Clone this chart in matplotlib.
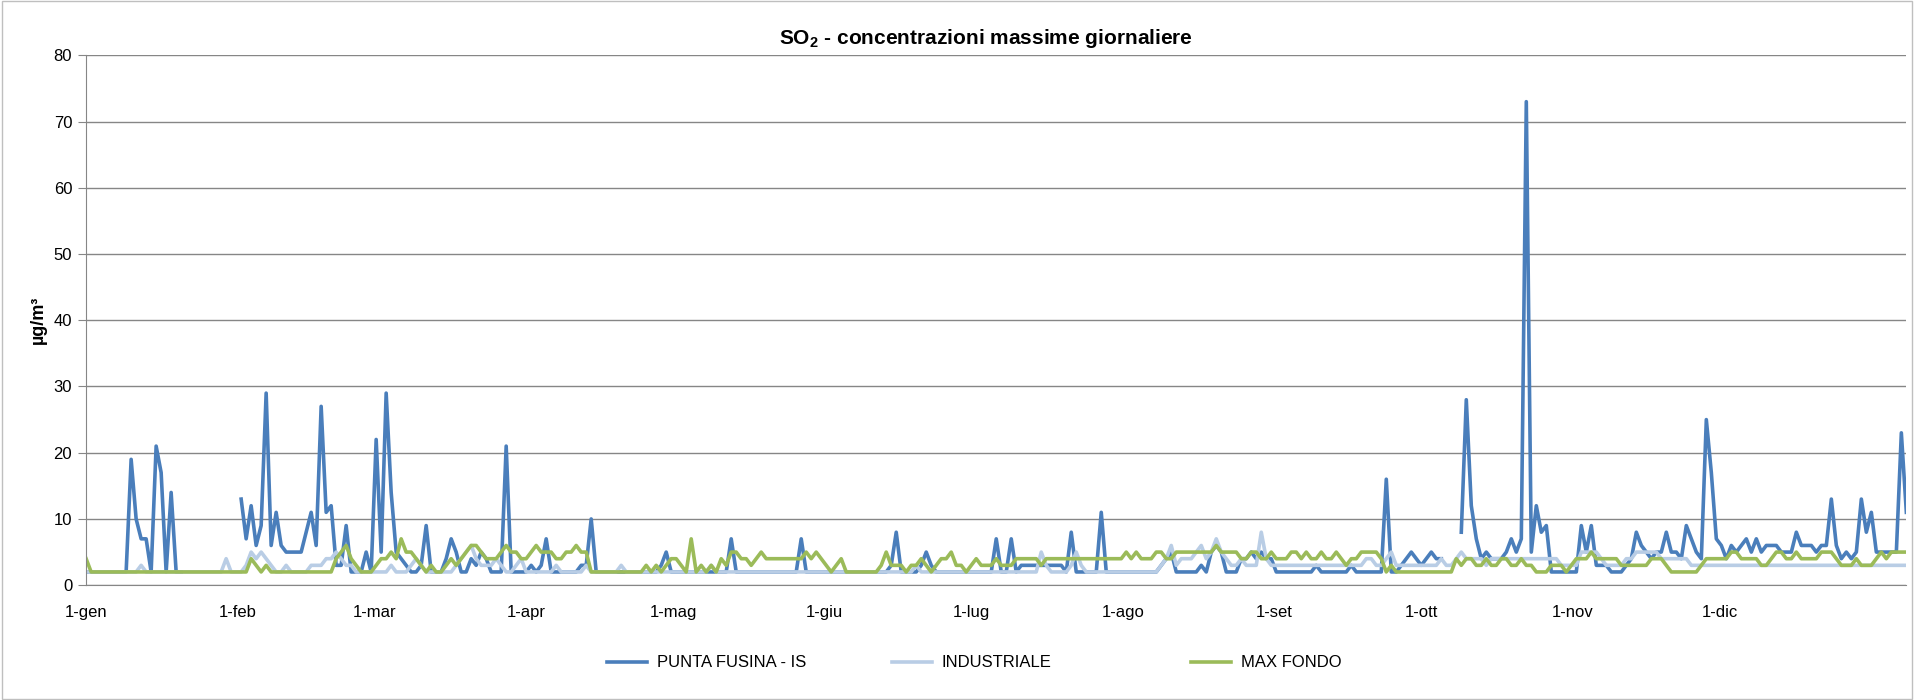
""" SO2 - concentrazioni massime giornaliere """

import numpy as np
import matplotlib
matplotlib.use('Agg')
import matplotlib.pyplot as plt
from matplotlib.lines import Line2D
from matplotlib.patches import Rectangle

N = None  # missing day

# DATA (one row per month, 1-gen ... 31-dic)
punta_fusina = [
    2, 2, 2, 2, 2, 2, 2, 2, 2, 19, 10, 7, 7, 2, 21, 17, 2, 14, 2, 2, N, N, N, N, N, N, N, N, N, N, N,
    13, 7, 12, 6, 9, 29, 6, 11, 6, 5, 5, 5, 5, 8, 11, 6, 27, 11, 12, 3, 3, 9, 2, 2, 2, 5, 2, 22,
    5, 29, 14, 5, 4, 3, 2, 2, 3, 9, 2, 2, 2, 4, 7, 5, 2, 2, 4, 3, 5, 4, 2, 2, 2, 21, 2, 2, 2, 2, 3,
    2, 3, 7, 2, 2, 2, 2, 2, 2, 3, 3, 10, 2, 2, 2, 2, 2, 2, 2, 2, 2, 2, 2, 2, 2, 3, 5, 2, 2, 2,
    2, 2, 2, 2, 2, 2, 2, 2, 2, 7, 2, 2, 2, 2, 2, 2, 2, 2, 2, 2, 2, 2, 2, 7, 2, 2, 2, 2, 2, 2, 2,
    2, 2, 2, 2, 2, 2, 2, 2, 2, 2, 3, 8, 2, 2, 2, 2, 3, 5, 3, 2, 2, 2, 2, 2, 2, 2, 2, 2, 2, 2,
    2, 7, 2, 2, 7, 2, 3, 3, 3, 3, 3, 3, 3, 3, 3, 2, 8, 2, 2, 2, 2, 2, 11, 2, 2, 2, 2, 2, 2, 2, 2,
    2, 2, 2, 3, 4, 5, 2, 2, 2, 2, 2, 3, 2, 5, 6, 5, 2, 2, 2, 4, 4, 5, 4, 5, 4, 4, 2, 2, 2, 2, 2,
    2, 2, 2, 3, 2, 2, 2, 2, 2, 2, 3, 2, 2, 2, 2, 2, 2, 16, 2, 2, 3, 4, 5, 4, 3, 4, 5, 4, 4, N,
    N, N, 8, 28, 12, 7, 4, 5, 4, 4, 4, 5, 7, 5, 7, 73, 5, 12, 8, 9, 2, 2, 2, 2, 2, 2, 9, 5, 9, 3, 3,
    3, 2, 2, 2, 3, 4, 8, 6, 5, 4, 5, 5, 8, 5, 5, 4, 9, 7, 5, 4, 25, 17, 7, 6, 4, 6, 5, 6, 7, 5,
    7, 5, 6, 6, 6, 5, 5, 5, 8, 6, 6, 6, 5, 6, 6, 13, 6, 4, 5, 4, 5, 13, 8, 11, 5, 5, 5, 5, 5, 23, 11,
]

industriale = [
    2, 2, 2, 2, 2, 2, 2, 2, 2, 2, 2, 3, 2, 2, 2, 2, 2, 2, 2, 2, 2, 2, 2, 2, 2, 2, 2, 2, 4, 2, 2,
    2, 3, 5, 4, 5, 4, 3, 2, 2, 3, 2, 2, 2, 2, 3, 3, 3, 4, 4, 5, 4, 3, 3, 2, 2, 2, 2, 2,
    2, 2, 3, 2, 2, 2, 3, 4, 3, 2, 2, 2, 2, 2, 2, 3, 4, 5, 6, 4, 3, 3, 3, 4, 3, 2, 2, 3, 4, 2, 2,
    2, 2, 2, 2, 3, 2, 2, 2, 2, 2, 3, 2, 2, 2, 2, 2, 2, 3, 2, 2, 2, 2, 2, 2, 2, 2, 2, 2, 2, 2,
    2, 2, 2, 2, 2, 3, 2, 2, 2, 2, 2, 2, 2, 2, 2, 2, 2, 2, 2, 2, 2, 2, 2, 2, 2, 2, 2, 2, 2, 2, 2,
    2, 2, 2, 2, 2, 2, 2, 2, 2, 2, 2, 2, 2, 2, 2, 3, 2, 2, 2, 2, 2, 2, 2, 2, 2, 2, 2, 2, 2, 2,
    2, 2, 2, 2, 2, 2, 2, 2, 2, 2, 5, 3, 2, 2, 2, 2, 3, 5, 3, 2, 2, 2, 2, 2, 2, 2, 2, 2, 2, 2, 2,
    2, 2, 2, 3, 4, 6, 3, 4, 4, 4, 5, 6, 4, 5, 7, 5, 4, 3, 3, 4, 3, 3, 3, 8, 4, 3, 3, 3, 3, 3, 3,
    3, 3, 3, 3, 3, 3, 3, 3, 3, 3, 3, 3, 3, 4, 4, 3, 3, 4, 5, 3, 3, 3, 3, 3, 3, 3, 3, 3, 4, 3,
    3, 4, 5, 4, 4, 4, 4, 3, 4, 4, 4, 4, 4, 4, 4, 4, 4, 4, 4, 4, 4, 4, 3, 3, 3, 3, 5, 5, 5, 5, 4,
    3, 3, 3, 3, 4, 4, 5, 5, 5, 5, 5, 4, 4, 4, 4, 4, 4, 3, 3, 3, 3, 3, 3, 3, 3, 3, 3, 3, 3, 3,
    3, 3, 3, 3, 3, 3, 3, 3, 3, 3, 3, 3, 3, 3, 3, 3, 3, 3, 3, 3, 3, 3, 3, 3, 3, 3, 3, 3, 3, 3, 3,
]

max_fondo = [
    4, 2, 2, 2, 2, 2, 2, 2, 2, 2, 2, 2, 2, 2, 2, 2, 2, 2, 2, 2, 2, 2, 2, 2, 2, 2, 2, 2, 2, 2, 2,
    2, 2, 4, 3, 2, 3, 2, 2, 2, 2, 2, 2, 2, 2, 2, 2, 2, 2, 2, 4, 5, 6, 4, 3, 2, 2, 2, 3,
    4, 4, 5, 4, 7, 5, 5, 4, 3, 2, 3, 2, 2, 3, 4, 3, 4, 5, 6, 6, 5, 4, 4, 4, 5, 6, 5, 5, 4, 4, 5,
    6, 5, 5, 5, 4, 4, 5, 5, 6, 5, 5, 2, 2, 2, 2, 2, 2, 2, 2, 2, 2, 2, 3, 2, 3, 2, 3, 4, 4, 3,
    2, 7, 2, 3, 2, 3, 2, 4, 3, 5, 5, 4, 4, 3, 4, 5, 4, 4, 4, 4, 4, 4, 4, 4, 5, 4, 5, 4, 3, 2, 3,
    4, 2, 2, 2, 2, 2, 2, 2, 3, 5, 3, 3, 3, 2, 3, 3, 4, 3, 2, 3, 4, 4, 5, 3, 3, 2, 3, 4, 3, 3,
    3, 4, 3, 3, 3, 4, 4, 4, 4, 4, 3, 4, 4, 4, 4, 4, 4, 4, 4, 4, 4, 4, 4, 4, 4, 4, 4, 5, 4, 5, 4,
    4, 4, 5, 5, 4, 4, 5, 5, 5, 5, 5, 5, 5, 5, 6, 5, 5, 5, 5, 4, 4, 5, 5, 4, 4, 5, 4, 4, 4, 5, 5,
    4, 5, 4, 4, 5, 4, 4, 5, 4, 3, 4, 4, 5, 5, 5, 5, 4, 2, 3, 2, 2, 2, 2, 2, 2, 2, 2, 2, 2, 2,
    2, 4, 3, 4, 4, 3, 3, 4, 3, 3, 4, 4, 3, 3, 4, 3, 3, 2, 2, 2, 3, 3, 3, 2, 3, 4, 4, 4, 5, 4, 4,
    4, 4, 4, 3, 3, 3, 3, 3, 3, 4, 4, 4, 3, 2, 2, 2, 2, 2, 2, 3, 4, 4, 4, 4, 4, 5, 5, 4, 4, 4,
    4, 3, 3, 4, 5, 5, 4, 4, 5, 4, 4, 4, 4, 5, 5, 5, 4, 3, 3, 3, 4, 3, 3, 3, 4, 5, 4, 5, 5, 5, 5,
]

month_labels = ['1-gen', '1-feb', '1-mar', '1-apr', '1-mag', '1-giu',
                '1-lug', '1-ago', '1-set', '1-ott', '1-nov', '1-dic']
month_days = [31, 28, 31, 30, 31, 30, 31, 31, 30, 31, 30, 31]
series_names = ['PUNTA FUSINA - IS', 'INDUSTRIALE', 'MAX FONDO']
series_colors = ['#4a7ebb', '#b9cde5', '#9bbb59']

plt.rcParams['font.family'] = ['Liberation Sans', 'DejaVu Sans']
plt.rcParams['mathtext.fontset'] = 'custom'
plt.rcParams['mathtext.bf'] = 'Liberation Sans:bold'
plt.rcParams['mathtext.rm'] = 'Liberation Sans'

days = np.arange(len(punta_fusina))
month_starts = np.concatenate([[0], np.cumsum(month_days)[:-1]])
# in the Excel original the month labels sit a little tighter than the points
label_scale = 0.978

fig = plt.figure(figsize=(19.14, 7.0), dpi=100)
ax = fig.add_axes([0.045, 0.164, 0.951, 0.757])

for values, name, color in zip([punta_fusina, industriale, max_fondo],
                               series_names, series_colors):
    ax.plot(days, np.array(values, dtype=float), color=color, lw=2.6,
            label=name, solid_joinstyle='round')

ax.set_xlim(0, len(days) - 1)
ax.set_ylim(0, 80)
ax.set_yticks(range(0, 81, 10))
ax.set_xticks(month_starts * label_scale)
ax.set_xticklabels(month_labels)
ax.tick_params(axis='x', length=0, pad=14, labelsize=12)
ax.tick_params(axis='y', length=6, color='#868686', pad=4, labelsize=12)
ax.grid(axis='y', color='#868686', lw=1)
ax.set_axisbelow(True)
for side in ['top', 'right']:
    ax.spines[side].set_visible(False)
for side in ['left', 'bottom']:
    ax.spines[side].set_color('#868686')

ax.set_ylabel('µg/m³', fontsize=13, fontweight='bold', labelpad=5)
fig.text(0.515, 0.945, r'$\mathbf{SO_2}$ - concentrazioni massime giornaliere',
         ha='center', va='center', fontsize=15, fontweight='bold')

# legend: three equally spaced slots like the Excel one
legend_x = [0.317, 0.466, 0.622]
for name, color, lx in zip(series_names, series_colors, legend_x):
    handle = Line2D([], [], color=color, lw=2.6)
    leg = fig.legend([handle], [name], loc='center left', bbox_to_anchor=(lx, 0.053),
                     frameon=False, fontsize=12, handlelength=2.4, handletextpad=0.6,
                     borderaxespad=0, borderpad=0)

# chart border
fig.patches.append(Rectangle((0.001, 0.001), 0.998, 0.997, transform=fig.transFigure,
                             fill=False, edgecolor='#bfbfbf', lw=1))

fig.savefig('out.png', dpi=100)
